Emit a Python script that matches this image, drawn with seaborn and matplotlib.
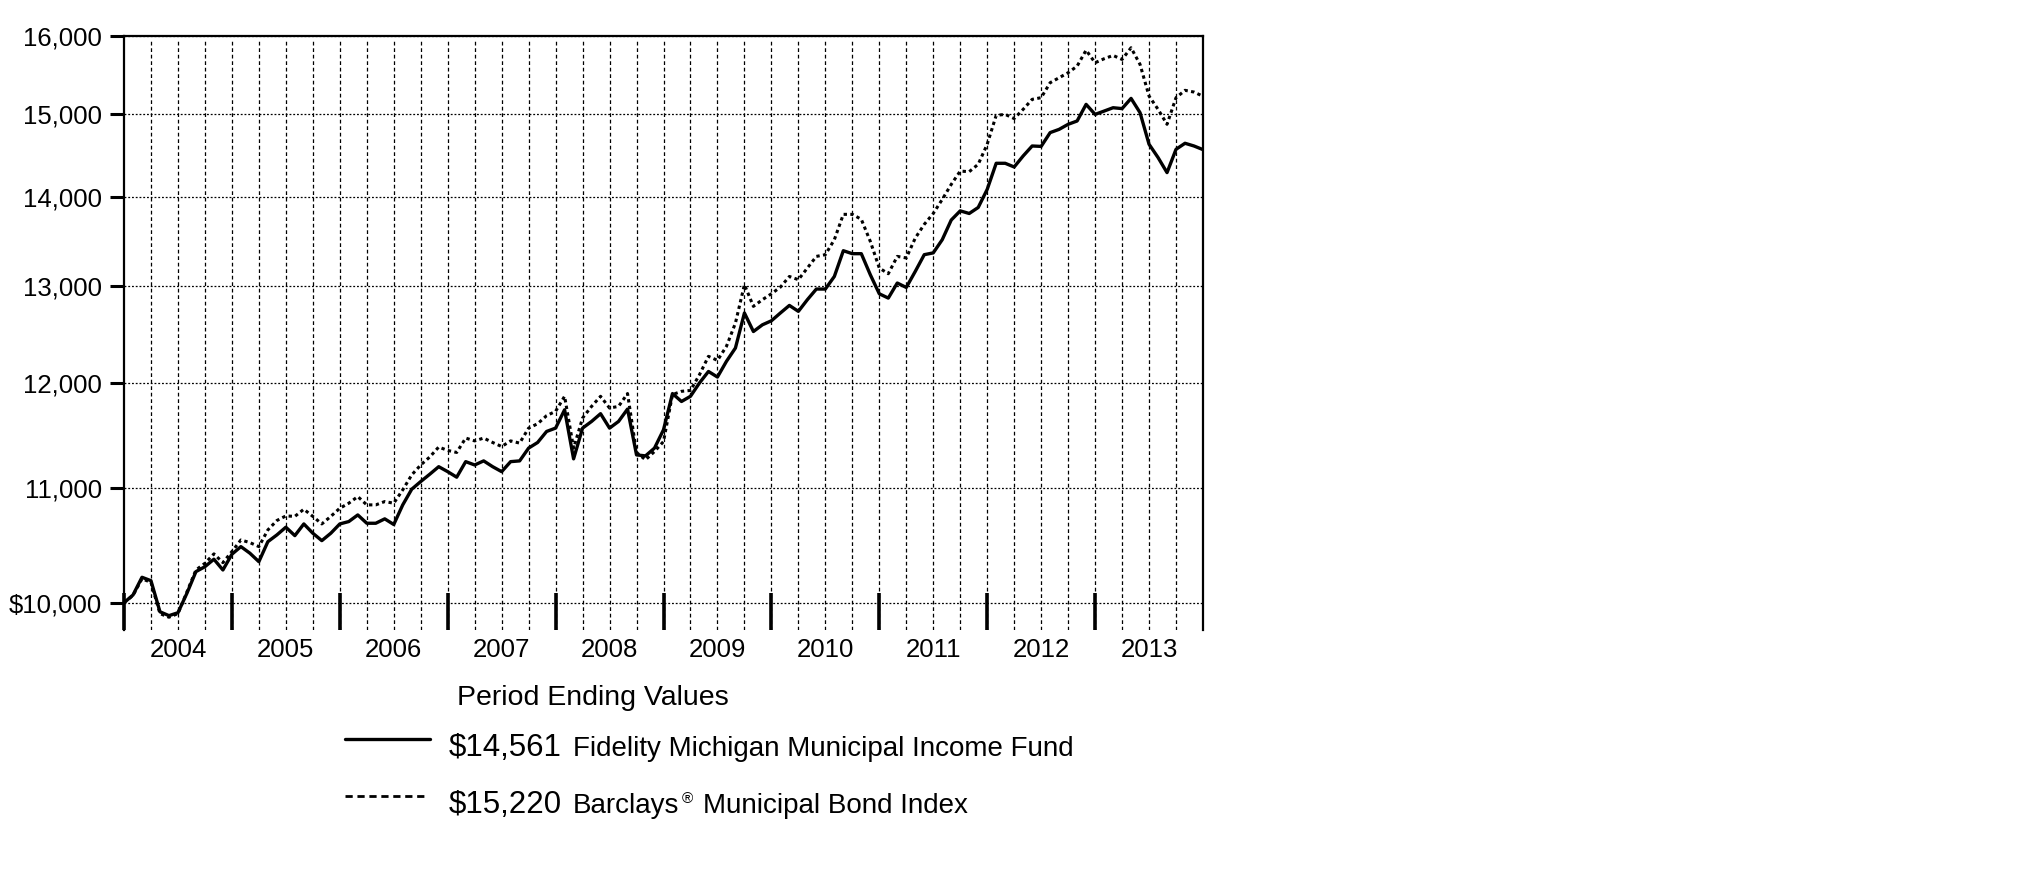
import numpy as np
import pandas as pd
import matplotlib
matplotlib.use("Agg")
import matplotlib.pyplot as plt
import seaborn as sns
from matplotlib.lines import Line2D
from matplotlib.ticker import NullLocator

# ---------------- data ----------------
months = list(range(121))  # month-ends, Dec 2003 (0) .. Dec 2013 (120)

fidelity = [
    10000, 10064, 10213, 10184, 9925, 9893, 9917, 10079, 10261, 10303, 10367, 10275,
    10410, 10476, 10419, 10346, 10519, 10578, 10646, 10572, 10675, 10593, 10528, 10593,
    10675, 10696, 10755, 10681, 10681, 10720, 10670, 10845, 10987, 11057, 11124, 11194,
    11148, 11097, 11241, 11210, 11248, 11194, 11148, 11241, 11248, 11368, 11421, 11526,
    11558, 11735, 11267, 11558, 11622, 11697, 11558, 11622, 11742, 11304, 11295, 11368,
    11542, 11894, 11816, 11867, 11999, 12114, 12058, 12216, 12352, 12716, 12522, 12592,
    12634, 12716, 12796, 12733, 12857, 12971, 12971, 13107, 13390, 13357, 13357, 13126,
    12920, 12874, 13036, 12988, 13162, 13346, 13366, 13513, 13735, 13840, 13810, 13879,
    14089, 14397, 14397, 14353, 14485, 14605, 14600, 14768, 14808, 14870, 14911, 15118,
    14993, 15034, 15076, 15065, 15193, 15014, 14626, 14466, 14286, 14565, 14638, 14605,
    14561,
]

barclays = [
    10000, 10060, 10200, 10170, 9910, 9880, 9910, 10090, 10275, 10332, 10413, 10338,
    10433, 10534, 10511, 10476, 10622, 10705, 10746, 10742, 10806, 10742, 10675, 10742,
    10815, 10860, 10920, 10845, 10845, 10875, 10860, 10981, 11118, 11210, 11284, 11378,
    11346, 11327, 11463, 11436, 11463, 11421, 11383, 11436, 11415, 11558, 11600, 11678,
    11720, 11867, 11368, 11655, 11768, 11867, 11752, 11768, 11894, 11327, 11258, 11336,
    11430, 11884, 11916, 11925, 12081, 12267, 12226, 12369, 12610, 13018, 12786, 12857,
    12920, 12992, 13107, 13072, 13199, 13327, 13346, 13513, 13800, 13800, 13743, 13494,
    13199, 13137, 13327, 13310, 13531, 13686, 13810, 13972, 14147, 14304, 14297, 14385,
    14626, 14981, 14993, 14941, 15056, 15181, 15202, 15392, 15456, 15520, 15605, 15813,
    15649, 15701, 15744, 15692, 15845, 15627, 15222, 15056, 14870, 15202, 15295, 15273,
    15220,
]

years = ["2004", "2005", "2006", "2007", "2008", "2009", "2010", "2011", "2012", "2013"]
yticks = [10000, 11000, 12000, 13000, 14000, 15000, 16000]
ytick_labels = ["\\$10,000", "11,000", "12,000", "13,000", "14,000", "15,000", "16,000"]

legend_title = "Period Ending Values"
series_values = ["\\$14,561", "\\$15,220"]
series_names = ["Fidelity Michigan Municipal Income Fund", "Barclays", "Municipal Bond Index"]

# ---------------- figure ----------------
sns.set_theme(style="white")
plt.rcParams["font.family"] = ["Liberation Sans", "DejaVu Sans"]
plt.rcParams["text.color"] = "black"

W, H = 2025, 873
fig = plt.figure(figsize=(W / 100, H / 100), dpi=100, facecolor="white")
ax = fig.add_axes([124 / W, 1 - 630 / H, (1203 - 124) / W, (630 - 36) / H])
ax.set_facecolor("white")

df = pd.DataFrame({"month": months, "Fidelity": fidelity, "Barclays": barclays})

dotted = (0, (1.1, 1.1))
sns.lineplot(data=df, x="month", y="Barclays", ax=ax, color="black", lw=2.2,
             linestyle=dotted, zorder=3)
sns.lineplot(data=df, x="month", y="Fidelity", ax=ax, color="black", lw=2.4, zorder=4)

ax.set_yscale("log")
ax.set_ylim(9776, 16000)
ax.set_xlim(0, 120)
ax.set_xlabel("")
ax.set_ylabel("")

ax.set_yticks(yticks, labels=ytick_labels)
ax.yaxis.set_minor_locator(NullLocator())
ax.tick_params(axis="y", which="major", direction="out", length=10, width=2.2,
               pad=6, labelsize=18.5, colors="black", left=True)

# year boundaries: thick inward ticks; year names centred in each year
n_years = len(years)
bounds = [12 * k for k in range(n_years)]
mids = [12 * k + 6 for k in range(n_years)]
ax.set_xticks(bounds)
ax.set_xticks(mids, labels=years, minor=True)
ax.set_xlim(0, 120)
ax.tick_params(axis="x", which="major", direction="in", length=26.5, width=2.6,
               bottom=True, labelbottom=False, colors="black")
ax.tick_params(axis="x", which="minor", length=0, pad=6, labelsize=18.5,
               bottom=True, labelbottom=True, colors="black")

# grid
ax.yaxis.grid(True, which="major", color="black", lw=0.9, ls=(0, (1.5, 1.5)), zorder=1)
for q in range(3, 120, 3):
    ax.axvline(q, color="black", lw=0.9, ls=(0, (3, 2.2)), zorder=1, ymax=0.992)

for side in ["left", "top", "right"]:
    ax.spines[side].set_visible(True)
    ax.spines[side].set_color("black")
    ax.spines[side].set_linewidth(1.6)
ax.spines["bottom"].set_visible(False)

# ---------------- legend block ----------------
def fx(px):
    return px / W

def fy(py):
    return 1 - py / H

fig.text(fx(457), fy(705), legend_title, fontsize=20.5, va="baseline", ha="left")

fig.add_artist(Line2D([fx(345), fx(430)], [fy(739), fy(739)], color="black", lw=2.4))
fig.add_artist(Line2D([fx(345), fx(428)], [fy(796), fy(796)], color="black", lw=2.0,
                      ls=(0, (2.6, 1.7))))

fig.text(fx(449), fy(756), series_values[0], fontsize=22.5, va="baseline")
fig.text(fx(573), fy(756), series_names[0], fontsize=20, va="baseline")

fig.text(fx(449), fy(813), series_values[1], fontsize=22.5, va="baseline")
t_b = fig.text(fx(573), fy(813), series_names[1], fontsize=20, va="baseline")
fig.canvas.draw()
r = fig.canvas.get_renderer()
bb = t_b.get_window_extent(r)
x_reg = bb.x1 + 2
fig.text(x_reg / W, fy(803), "\u00ae", fontsize=11, va="baseline")
fig.text((x_reg + 22) / W, fy(813), series_names[2], fontsize=20, va="baseline")

fig.savefig("out.png", dpi=100, facecolor="white")
